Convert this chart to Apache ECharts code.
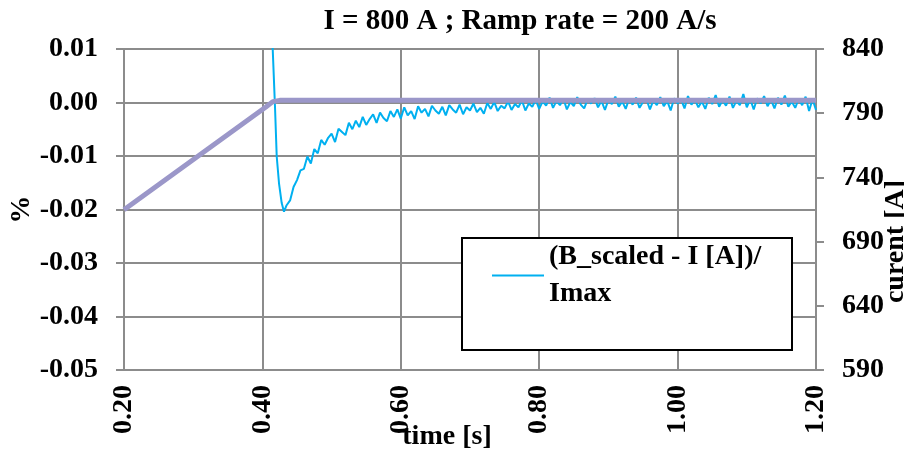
<!DOCTYPE html>
<html>
<head>
<meta charset="utf-8">
<script src="https://cdn.jsdelivr.net/npm/echarts@6/dist/echarts.min.js"></script>
<style>html,body{margin:0;padding:0;background:#fff}#c{width:904px;height:455px}</style>
</head>
<body>
<div id="c"></div>
<script>
// ---- data ----
const titleText = 'I = 800 A ; Ramp rate = 200 A/s';
const blueName = '(B_scaled - I [A])/\nImax';
const currentName = 'Current';

// time [s] for the deviation (%) series
const blueTime = [0.412,0.4135,0.4182,0.4207,0.4240,0.4279,0.4312,
0.435,0.440,0.445,0.450,0.455,0.460,0.465,0.470,0.475,0.480,0.485,0.490,0.495,0.500,
0.505,0.510,0.515,0.520,0.525,0.530,0.535,0.540,0.545,0.550,0.555,0.560,0.565,0.570,
0.575,0.580,0.585,0.590,0.595,0.600,0.605,0.610,0.615,0.620,0.625,0.630,0.635,0.640,
0.645,0.650,0.655,0.660,0.665,0.670,0.675,0.680,0.685,0.690,0.695,0.700,0.705,0.710,
0.715,0.720,0.725,0.730,0.735,0.740,0.745,0.750,0.755,0.760,0.765,0.770,0.775,0.780,
0.785,0.790,0.795,0.800,0.805,0.810,0.815,0.820,0.825,0.830,0.835,0.840,0.845,0.850,
0.855,0.860,0.865,0.870,0.875,0.880,0.885,0.890,0.895,0.900,0.905,0.910,0.915,0.920,
0.925,0.930,0.935,0.940,0.945,0.950,0.955,0.960,0.965,0.970,0.975,0.980,0.985,0.990,
0.995,1.000,1.005,1.010,1.015,1.020,1.025,1.030,1.035,1.040,1.045,1.050,1.055,1.060,
1.065,1.070,1.075,1.080,1.085,1.090,1.095,1.100,1.105,1.110,1.115,1.120,1.125,1.130,
1.135,1.140,1.145,1.150,1.155,1.160,1.165,1.170,1.175,1.180,1.185,1.190,1.195,1.200];

// (B_scaled - I)/Imax in %
const bluePct = [0.0200,0.0146,-0.0008,-0.0101,-0.0151,-0.0188,-0.0204,
-0.0192,-0.0183,-0.0158,-0.0145,-0.0127,-0.0124,-0.0101,-0.0114,-0.0087,-0.0095,
-0.0070,-0.0079,-0.0066,-0.0058,-0.0074,-0.0049,-0.0055,-0.0061,-0.0038,-0.0050,
-0.0034,-0.0046,-0.0027,-0.0042,-0.0031,-0.0022,-0.0038,-0.0019,-0.0029,-0.0035,
-0.0016,-0.0027,-0.0013,
-0.0030,-0.0009,-0.0024,-0.0016,-0.0031,-0.0007,-0.0019,-0.0012,-0.0026,-0.0006,
-0.0015,-0.0021,-0.0008,-0.0024,-0.0005,-0.0013,-0.0019,-0.0004,-0.0022,-0.0009,
-0.0015,-0.0002,-0.0018,-0.0010,-0.0021,-0.0001,-0.0012,0.0001,-0.0016,-0.0006,
-0.0011,0.0002,-0.0014,-0.0003,-0.0009,0.0004,-0.0015,-0.0002,-0.0008,0.0005,
-0.0012,0.0002,-0.0006,0.0009,-0.0010,0.0003,-0.0005,0.0007,-0.0013,0.0001,
-0.0007,0.0010,-0.0004,-0.0011,0.0006,-0.0002,0.0008,-0.0009,0.0003,-0.0014,
0.0005,-0.0003,0.0011,-0.0008,0.0002,-0.0012,0.0007,-0.0004,0.0009,-0.0010,
0.0001,0.0006,-0.0013,0.0004,-0.0005,0.0010,-0.0007,0.0003,-0.0015,0.0008,
-0.0002,0.0006,-0.0011,0.0012,-0.0004,0.0005,-0.0009,0.0002,-0.0012,0.0009,
-0.0003,0.0014,-0.0008,0.0004,-0.0006,0.0011,-0.0010,0.0003,-0.0005,0.0016,
-0.0009,0.0006,-0.0013,0.0008,-0.0002,0.0012,-0.0007,0.0005,-0.0011,0.0009,
-0.0004,0.0013,-0.0008,0.0002,-0.0010,0.0007,-0.0005,0.0011,-0.0016,0.0006,
-0.0014];

// current [A] (right axis)
const currentTime = [0.20, 0.405, 0.415, 0.425, 1.20];
const currentA = [714.8, 794.8, 799.0, 800.0, 800.0];

// axis settings
const xMin = 0.2, xMax = 1.2, xStep = 0.2;
const pctMin = -0.05, pctMax = 0.01, pctStep = 0.01;
const ampMin = 590, ampMax = 840, ampStep = 50;

const FONT = '"Liberation Serif","Times New Roman",serif';
const GRID = '#8c8c8c';

const chart = echarts.init(document.getElementById('c'), null, {renderer: 'canvas'});
chart.setOption({
  animation: false,
  backgroundColor: '#fff',
  title: {
    text: titleText, left: 515, top: 2, textAlign: 'center',
    textStyle: {fontFamily: FONT, fontWeight: 'bold', fontSize: 29, color: '#000'}
  },
  grid: {left: 124, right: 88, top: 49, bottom: 85, containLabel: false, outerBoundsMode: 'none'},
  legend: {
    data: [blueName], left: 492, top: 220, z: 10, padding: 0,
    selectedMode: false, icon: 'rect', itemWidth: 52, itemHeight: 2,
    textStyle: {fontFamily: FONT, fontWeight: 'bold', fontSize: 28, color: '#000',
      lineHeight: 37, padding: [37, 0, 0, 0]}
  },
  graphic: [{
    type: 'rect', z: 5, silent: true,
    shape: {x: 462, y: 238, width: 330, height: 112},
    style: {fill: '#fff', stroke: '#000', lineWidth: 2}
  }],
  xAxis: {
    type: 'value', min: xMin, max: xMax, interval: xStep,
    name: 'time [s]', nameLocation: 'middle', nameGap: 53, nameMoveOverlap: false,
    nameTextStyle: {fontFamily: FONT, fontWeight: 'bold', fontSize: 28, color: '#000', padding: [0, 46, 0, 0]},
    axisLine: {show: true, lineStyle: {color: GRID, width: 2}},
    axisTick: {show: false},
    splitLine: {show: true, lineStyle: {color: GRID, width: 2}},
    axisLabel: {rotate: 90, margin: 15, fontFamily: FONT, fontWeight: 'bold', fontSize: 28, color: '#000',
      formatter: v => v.toFixed(2)}
  },
  yAxis: [{
    type: 'value', position: 'left', min: pctMin, max: pctMax, interval: pctStep,
    name: '%', nameLocation: 'middle', nameGap: 88, nameRotate: 90, nameMoveOverlap: false,
    nameTextStyle: {fontFamily: FONT, fontWeight: 'bold', fontSize: 28, color: '#000'},
    axisLine: {show: true, lineStyle: {color: GRID, width: 2}},
    axisTick: {show: true, length: 8, lineStyle: {color: GRID, width: 2}},
    splitLine: {show: true, lineStyle: {color: GRID, width: 2}},
    axisLabel: {margin: 26, fontFamily: FONT, fontWeight: 'bold', fontSize: 28, color: '#000',
      formatter: v => (Math.abs(v) < 1e-9 ? 0 : v).toFixed(2)}
  }, {
    type: 'value', position: 'right', min: ampMin, max: ampMax, interval: ampStep,
    name: 'curent [A]', nameLocation: 'middle', nameGap: 66, nameRotate: 90, nameMoveOverlap: false,
    nameTextStyle: {fontFamily: FONT, fontWeight: 'bold', fontSize: 28, color: '#000', padding: [0, 64, 0, 0]},
    axisLine: {show: true, lineStyle: {color: GRID, width: 2}},
    axisTick: {show: true, length: 8, lineStyle: {color: GRID, width: 2}},
    splitLine: {show: false},
    axisLabel: {margin: 26, fontFamily: FONT, fontWeight: 'bold', fontSize: 28, color: '#000'}
  }],
  series: [{
    name: blueName, type: 'line', yAxisIndex: 0, showSymbol: false, symbol: 'none',
    clip: true, z: 2,
    lineStyle: {color: '#00b0f0', width: 2}, itemStyle: {color: '#00b0f0'},
    data: blueTime.map((t, i) => [t, bluePct[i]])
  }, {
    name: currentName, type: 'line', yAxisIndex: 1, showSymbol: false, symbol: 'none',
    clip: true, z: 3,
    lineStyle: {color: '#9b97c9', width: 5}, itemStyle: {color: '#9b97c9'},
    data: currentTime.map((t, i) => [t, currentA[i]])
  }]
});
</script>
</body>
</html>
